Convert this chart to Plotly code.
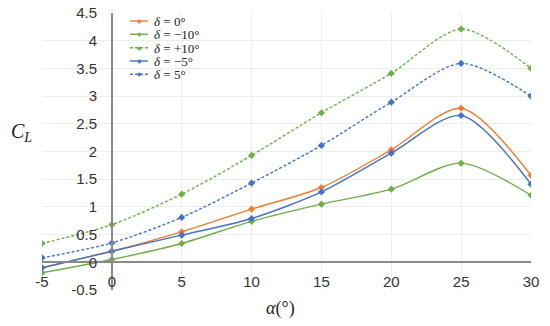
import plotly.graph_objects as go

alpha = [-5, 0, 5, 10, 15, 20, 25, 30]

series_names = ["<i>δ</i> = 0°", "<i>δ</i> = −10°", "<i>δ</i> = +10°", "<i>δ</i> = −5°", "<i>δ</i> = 5°"]
cl_d0 = [-0.10, 0.20, 0.55, 0.96, 1.35, 2.03, 2.78, 1.57]
cl_dm10 = [-0.19, 0.05, 0.34, 0.74, 1.05, 1.32, 1.79, 1.21]
cl_dp10 = [0.34, 0.68, 1.23, 1.93, 2.70, 3.41, 4.21, 3.50]
cl_dm5 = [-0.10, 0.20, 0.49, 0.79, 1.27, 1.97, 2.65, 1.41]
cl_dp5 = [0.08, 0.35, 0.81, 1.43, 2.11, 2.89, 3.59, 3.00]

x_ticks = [-5, 0, 5, 10, 15, 20, 25, 30]
y_ticks = [-0.5, 0, 0.5, 1, 1.5, 2, 2.5, 3, 3.5, 4, 4.5]
y_tick_text = ["-0.5", "0", "0.5", "1", "1.5", "2", "2.5", "3", "3.5", "4", "4.5"]

ORANGE = "#ED7D31"
GREEN = "#70AD47"
BLUE = "#4472C4"

styles = [
    (cl_d0, ORANGE, "solid"),
    (cl_dm10, GREEN, "solid"),
    (cl_dp10, GREEN, "3px,2px"),
    (cl_dm5, BLUE, "solid"),
    (cl_dp5, BLUE, "3px,2px"),
]

fig = go.Figure()
for name, (vals, col, dash) in zip(series_names, styles):
    fig.add_trace(go.Scatter(
        x=alpha, y=vals, name=name, mode="lines+markers",
        line=dict(color=col, width=1.4, dash=dash, shape="spline", smoothing=0.8),
        marker=dict(symbol="diamond", size=5.5, color=col),
        showlegend=False,
    ))

W, H = 550, 326
ml, mr, mt, mb = 42, 19, 13, 36
pw, ph = W - ml - mr, H - mt - mb
xr = [-5, 30]
yr = [-0.5, 4.5]
ypos = (0 - xr[0]) / (xr[1] - xr[0])
xpos = (0 - yr[0]) / (yr[1] - yr[0])

def px_x(p):
    return (p - ml) / pw

def px_y(p):
    return 1 - (p - mt) / ph

tickfont = dict(family="Liberation Sans", size=15, color="#333333")

# compact legend, drawn like the reference (tight rows)
shapes = []
annotations = []
row_y = [21, 34.3, 47.7, 61, 74.3]
for (vals, col, dash), name, ry in zip(styles, series_names, row_y):
    shapes.append(dict(type="line", xref="paper", yref="paper",
                       x0=px_x(130), x1=px_x(148), y0=px_y(ry), y1=px_y(ry),
                       line=dict(color=col, width=1.4, dash=dash)))
    annotations.append(dict(text="◆", xref="paper", yref="paper",
                            x=px_x(139), y=px_y(ry), xanchor="center", yanchor="middle",
                            showarrow=False, height=8, font=dict(size=6, color=col)))
    annotations.append(dict(text=name, xref="paper", yref="paper",
                            x=px_x(153), y=px_y(ry), xanchor="left", yanchor="middle",
                            showarrow=False, height=12, borderpad=0,
                            font=dict(family="Liberation Serif", size=13, color="#222")))

annotations += [
    dict(text="<i>C</i><sub><i>L</i></sub>", xref="paper", yref="paper",
         x=px_x(21), y=px_y(132), xanchor="center", yanchor="middle", showarrow=False,
         font=dict(family="Liberation Serif", size=20, color="#222")),
    dict(text="<i>α</i>(°)", xref="paper", yref="paper",
         x=px_x(280), y=px_y(308), xanchor="center", yanchor="middle", showarrow=False,
         font=dict(family="Liberation Serif", size=18, color="#222")),
]

fig.update_layout(
    width=W, height=H,
    margin=dict(l=ml, r=mr, t=mt, b=mb, autoexpand=False),
    paper_bgcolor="white", plot_bgcolor="white",
    showlegend=False,
    xaxis=dict(
        range=xr, tickvals=x_ticks, ticktext=[str(v) for v in x_ticks],
        anchor="free", position=xpos, automargin=False,
        showline=True, linecolor="#8a8a8a", linewidth=1.5,
        showgrid=True, gridcolor="#ededed", gridwidth=1,
        zeroline=False, ticks="", ticklabelstandoff=6,
        ticklabeloverflow="allow",
        tickfont=tickfont,
    ),
    yaxis=dict(
        range=yr, tickvals=y_ticks, ticktext=y_tick_text,
        anchor="free", position=ypos, automargin=False,
        showline=True, linecolor="#8a8a8a", linewidth=1.5,
        showgrid=True, gridcolor="#ededed", gridwidth=1,
        zeroline=False, ticks="", ticklabelstandoff=11,
        ticklabeloverflow="allow",
        tickfont=tickfont,
    ),
    shapes=shapes,
    annotations=annotations,
)

# remove the default 8px page margin so the 550x326 figure fills the window
fig.write_html("out.html", config={"displayModeBar": False},
               post_script="document.body.style.margin='0';")
